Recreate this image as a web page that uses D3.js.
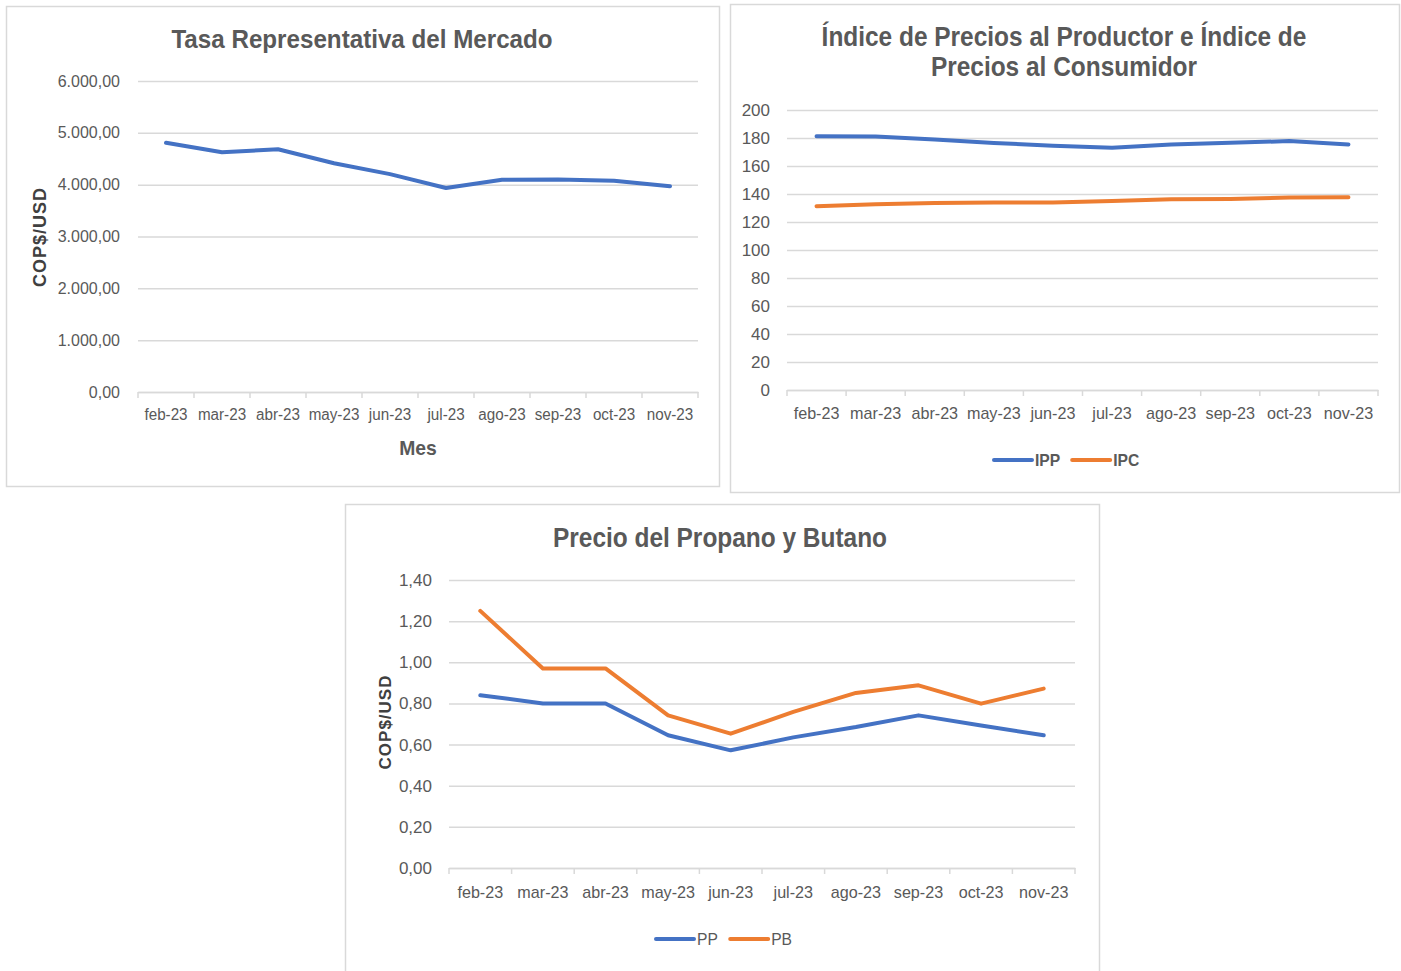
<!DOCTYPE html>
<html>
<head>
<meta charset="utf-8">
<script src="https://cdn.jsdelivr.net/npm/d3@7"></script>
<style>
  body { margin: 0; background: #fff; }
  svg { display: block; }
</style>
</head>
<body>
<script>
// datos
const meses = ["feb-23", "mar-23", "abr-23", "may-23", "jun-23", "jul-23", "ago-23", "sep-23", "oct-23", "nov-23"];
const trm = [4809, 4624, 4682, 4414, 4204, 3936, 4096, 4100, 4076, 3968];
const ipp = [181.2, 181.0, 178.9, 176.5, 174.4, 173.0, 175.3, 176.6, 177.8, 175.4];
const ipc = [131.3, 132.6, 133.6, 133.9, 134.0, 135.0, 136.2, 136.4, 137.5, 137.6];
const pp = [0.84, 0.80, 0.80, 0.645, 0.572, 0.635, 0.685, 0.742, 0.693, 0.645];
const pb = [1.25, 0.97, 0.97, 0.742, 0.653, 0.759, 0.851, 0.888, 0.799, 0.872];

const trmTicks = [0, 1000, 2000, 3000, 4000, 5000, 6000];
const indTicks = [0, 20, 40, 60, 80, 100, 120, 140, 160, 180, 200];
const glpTicks = [0, 0.2, 0.4, 0.6, 0.8, 1.0, 1.2, 1.4];

const azul = "#4472C4";
const naranja = "#ED7D31";
const gris = "#595959";
const sans = "'Liberation Sans', Arial, sans-serif";

const es = d3.formatLocale({decimal: ",", thousands: ".", grouping: [3], currency: ["$", ""]});

const svg = d3.select("body").append("svg")
  .attr("width", 1401).attr("height", 971);

// squeeze text horizontally to mimic the narrow Office font
const squeeze = (sel, k) => sel.each(function () {
  const w = this.getComputedTextLength();
  d3.select(this).attr("textLength", w * k).attr("lengthAdjust", "spacingAndGlyphs");
});

// draws one chart panel
const panel = (cfg) => {
  // frame
  svg.append("rect")
    .attr("x", cfg.box[0] + 0.5).attr("y", cfg.box[1] + 0.5)
    .attr("width", cfg.box[2]).attr("height", cfg.box[3])
    .attr("fill", "#fff").attr("stroke", "#d9d9d9").attr("stroke-width", 1.5);

  const x = d3.scaleBand().domain(meses).range([cfg.plot[0], cfg.plot[1]]);
  const y = d3.scaleLinear().domain([0, cfg.ticks[cfg.ticks.length - 1]]).range([cfg.plot[3], cfg.plot[2]]);
  const cx = d => x(d) + x.bandwidth() / 2;

  // grid + y labels
  const gy = svg.append("g").attr("transform", `translate(${cfg.plot[0]},0)`)
    .call(d3.axisLeft(y).tickValues(cfg.ticks).tickFormat(cfg.fmt)
      .tickSize(-(cfg.plot[1] - cfg.plot[0])).tickPadding(cfg.yPad));
  gy.select(".domain").remove();
  gy.selectAll(".tick line").attr("stroke", "#d9d9d9").attr("stroke-width", 1.5);
  gy.selectAll(".tick text").attr("fill", gris)
    .style("font-family", sans).style("font-size", cfg.yFont + "px");

  // x axis with ticks between categories
  const gx = svg.append("g").attr("transform", `translate(0,${cfg.plot[3]})`)
    .call(d3.axisBottom(x).tickSize(0).tickPadding(cfg.xPad));
  gx.select(".domain").attr("stroke", "#d9d9d9").attr("stroke-width", 1.5);
  gx.selectAll(".tick text").attr("fill", gris)
    .style("font-family", sans).style("font-size", cfg.xFont + "px");
  squeeze(gx.selectAll(".tick text"), 0.95);
  gx.selectAll("line.sep")
    .data(meses.concat(["fin"]))
    .join("line")
    .attr("class", "sep")
    .attr("x1", (d, i) => i < meses.length ? x(d) : x.range()[1])
    .attr("x2", (d, i) => i < meses.length ? x(d) : x.range()[1])
    .attr("y1", 0).attr("y2", 6)
    .attr("stroke", "#d9d9d9").attr("stroke-width", 1.5);

  // series
  const line = d3.line().x((d, i) => cx(meses[i])).y(d => y(d));
  cfg.series.forEach(s => {
    svg.append("path")
      .datum(s.values)
      .attr("d", line)
      .attr("fill", "none")
      .attr("stroke", s.color)
      .attr("stroke-width", 4)
      .attr("stroke-linejoin", "round")
      .attr("stroke-linecap", "round");
  });

  // title
  const t = svg.append("g")
    .attr("fill", gris)
    .style("font-family", sans)
    .style("font-weight", "bold")
    .style("font-size", cfg.titleSize + "px");
  cfg.title.forEach((ln, i) => {
    t.append("text").attr("text-anchor", "middle")
      .attr("x", cfg.titleX).attr("y", cfg.titleY + i * 30).text(ln);
  });
  squeeze(t.selectAll("text"), cfg.titleK);

  // y axis title
  if (cfg.yTitle) {
    svg.append("text")
      .attr("transform", `translate(${cfg.yTitle[1]},${cfg.yTitle[2]}) rotate(-90)`)
      .attr("text-anchor", "middle")
      .attr("fill", "#404040")
      .style("font-family", sans)
      .style("font-weight", "bold")
      .style("font-size", cfg.yTitle[3] + "px")
      .style("letter-spacing", "1px")
      .text(cfg.yTitle[0]);
  }
  if (cfg.xTitle) {
    const xt = svg.append("text")
      .attr("x", cfg.xTitle[1]).attr("y", cfg.xTitle[2])
      .attr("text-anchor", "middle")
      .attr("fill", gris)
      .style("font-family", sans)
      .style("font-weight", "bold")
      .style("font-size", "21px")
      .text(cfg.xTitle[0]);
    squeeze(xt, 0.92);
  }

  // legend
  if (cfg.legend) {
    let lx = cfg.legend[0];
    cfg.series.forEach(s => {
      svg.append("line")
        .attr("x1", lx).attr("x2", lx + 38)
        .attr("y1", cfg.legend[1]).attr("y2", cfg.legend[1])
        .attr("stroke", s.color).attr("stroke-width", 4).attr("stroke-linecap", "round");
      const tx = svg.append("text")
        .attr("x", lx + 41).attr("y", cfg.legend[1] + 6)
        .attr("fill", gris)
        .style("font-family", sans)
        .style("font-weight", cfg.legendBold ? "bold" : "normal")
        .style("font-size", "17px")
        .text(s.name);
      squeeze(tx, 0.92);
      lx += 41 + tx.node().getComputedTextLength() * 0.92 + cfg.legendGap;
    });
  }
};

panel({
  box: [6, 6, 713, 480],
  plot: [138, 698, 81, 392],
  ticks: trmTicks,
  fmt: es.format(",.2f"),
  yPad: 18, yFont: 16, xPad: 17, xFont: 16,
  title: ["Tasa Representativa del Mercado"],
  titleX: 362, titleY: 48, titleSize: 26, titleK: 0.93,
  yTitle: ["COP$/USD", 46, 237, 18],
  xTitle: ["Mes", 418, 455],
  series: [{name: "TRM", values: trm, color: azul}]
});

panel({
  box: [730, 4, 669, 488],
  plot: [787, 1378, 110, 390],
  ticks: indTicks,
  fmt: d3.format("d"),
  yPad: 17, yFont: 17, xPad: 17, xFont: 17,
  title: ["Índice de Precios al Productor e Índice de", "Precios al Consumidor"],
  titleX: 1064, titleY: 46, titleSize: 27, titleK: 0.905,
  legend: [994, 460], legendBold: true, legendGap: 14,
  series: [{name: "IPP", values: ipp, color: azul}, {name: "IPC", values: ipc, color: naranja}]
});

panel({
  box: [345, 504, 754, 480],
  plot: [449, 1075, 580, 868],
  ticks: glpTicks,
  fmt: es.format(".2f"),
  yPad: 17, yFont: 17, xPad: 18, xFont: 17,
  title: ["Precio del Propano y Butano"],
  titleX: 720, titleY: 547, titleSize: 27, titleK: 0.905,
  yTitle: ["COP$/USD", 391, 722, 17],
  legend: [656, 939], legendBold: false, legendGap: 14,
  series: [{name: "PP", values: pp, color: azul}, {name: "PB", values: pb, color: naranja}]
});
</script>
</body>
</html>
